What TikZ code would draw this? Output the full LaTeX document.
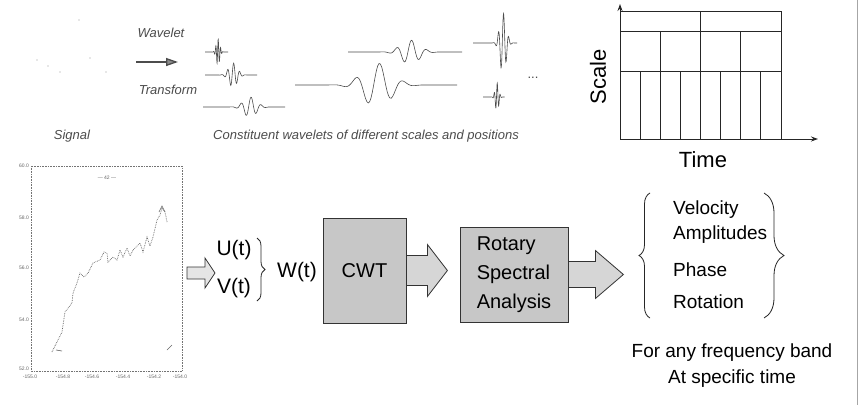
\documentclass[tikz,border=0pt]{standalone}
\usepackage{fontspec}
\setmainfont{Liberation Sans}
\usetikzlibrary{arrows.meta,decorations.pathreplacing,calc}
\newcommand\wvlt[8]{%
  \draw[wave] (#1,#4) -- ({#3-3*#6},#4) -- plot[domain={#3-3*#6}:{#3+3*#6}, samples=90]
    (\x,{#4-#5*exp(-((\x-#3)/#6)^2)*cos(#7*(\x-#3)+#8)}) -- (#2,#4);}
\begin{document}
\begin{tikzpicture}[x=1pt,y=-1pt,
  lbl/.style={font=\fontsize{21}{23}\selectfont, inner sep=0pt},
  lst/.style={font=\fontsize{19}{21}\selectfont, inner sep=0pt, anchor=west},
  toptxt/.style={font=\itshape\fontsize{13}{15}\selectfont, inner sep=0pt, text=black!70},
  box/.style={draw=black!80, line width=0.8pt, fill=black!22, inner sep=0pt, font=\fontsize{20}{29}\selectfont},
  barrow/.style={draw=black!80, line width=0.8pt, fill=black!16},
  wave/.style={black!70, line width=0.6pt},
  gridl/.style={line width=1pt, black!85},
  tick/.style={font=\fontsize{5}{6}\selectfont, inner sep=0pt, text=black!60},
  brc/.style={decorate, line width=0.8pt, black!85},
]
\useasboundingbox (0,0) rectangle (859,405);
\fill[white] (0,0) rectangle (859,405);

% ---------- top row: signal and wavelets ----------
\foreach \p in {(79,20),(37,60),(60,72),(90,58),(106,72),(48,66)}
  \fill[black!40] \p circle (0.6);
\node[toptxt] (wav) at (161,33) {Wavelet};
\node[toptxt] (trf) at (168,90) {Transform};
\coordinate (ta) at (136,62);
\coordinate (tb) at (178,62);
\draw[line width=1.3pt, black!70, -{Triangle[length=12pt,width=8pt,fill=black!45]}] (ta) -- (tb);
\node[toptxt] (sig) at (72,136) {Signal};
\node[toptxt] (cons) at (366,136) {Constituent wavelets of different scales and positions};

\wvlt{205}{228}{218}{52}{13}{2.5}{150}{-30}
\wvlt{205}{257}{233}{75}{12}{6}{60}{-40}
\wvlt{203}{285}{250}{107}{10}{9}{36}{-40}
\wvlt{348}{462}{410}{52}{12}{13}{24}{-40}
\wvlt{295}{457}{377}{85}{22}{20}{15}{-40}
\wvlt{473}{517}{503}{43}{30}{4.5}{70}{-40}
\wvlt{483}{503}{497}{97}{14}{2.5}{120}{-30}
\node[font=\fontsize{13}{15}\selectfont, inner sep=0pt, text=black!70] (dots) at (533,78) {...};

% ---------- time-scale tiling ----------
\coordinate (o) at (620,139);
\coordinate (ytop) at (620,4);
\coordinate (xend) at (818,139);
\draw[gridl, -{Stealth[length=7pt,width=5pt]}] (o) -- (ytop);
\draw[gridl, -{Stealth[length=7pt,width=5pt]}] (o) -- (xend);
\draw[gridl] (620,11) -- (781,11) -- (781,139);
\draw[gridl] (620,31) -- (781,31);
\draw[gridl] (620,71) -- (781,71);
\draw[gridl] (700,11) -- (700,139);
\foreach \x in {660,740} \draw[gridl] (\x,31) -- (\x,139);
\foreach \x in {640,680,720,760} \draw[gridl] (\x,71) -- (\x,139);
\node[font=\fontsize{22}{24}\selectfont, inner sep=0pt, rotate=90] (scl) at (598,77) {Scale};
\node[font=\fontsize{22}{24}\selectfont, inner sep=0pt] (tim) at (703,160) {Time};

% ---------- small track plot ----------
\draw[black!55, densely dotted, line width=0.6pt] (31,166) rectangle (182,371);
\foreach \y/\t in {166/60.0,218/58.0,268/56.0,320/54.0,369/52.0}
  \node[tick, anchor=east] at (29,\y) {\t};
\foreach \x/\t in {30/-155.0,63/-154.8,92/-154.6,123/-154.4,154/-154.2,180/-154.0}
  \node[tick] at (\x,377) {\t};
\node[tick] (leg) at (107,178) {--- 42 ---};
\draw[black!60, densely dotted, line width=0.7pt]
  (52,352) -- (62,332) -- (65,312) -- (72,303) -- (73,293) -- (77,283) -- (80,273)
  -- (84,277) -- (88,273) -- (93,263) -- (100,260) -- (104,252) -- (107,253) -- (108,262)
  -- (113,257) -- (117,260) -- (120,250) -- (123,257) -- (127,248) -- (130,256) -- (133,250)
  -- (137,246) -- (140,243) -- (143,252) -- (147,237) -- (150,246) -- (153,237)
  -- (157,220) -- (160,215) -- (162,208) -- (165,212) -- (167,222);
\draw[black!60, line width=0.6pt] (159,212) -- (162,206) -- (165,212);
\draw[black!60, line width=0.6pt] (167,350) -- (172,345);
\draw[black!60, line width=0.6pt] (56,350) -- (62,351);

% ---------- bottom flow ----------
\draw[barrow, fill=black!10] (187,267) -- (205,267) -- (205,258) -- (215,273) -- (205,288) -- (205,279) -- (187,279) -- cycle;
\node[lbl] (u) at (234,250) {U(t)};
\node[lbl] (v) at (234,288) {V(t)};
\draw[brc, decoration={brace, amplitude=8pt}] (257,238) -- (257,301);
\node[lbl] (w) at (297,272) {W(t)};

\node[box, minimum width=83pt, minimum height=105pt] (cwt) at (364.5,270.5) {CWT};
\draw[barrow] (cwt.east) ++(0,-15) -- ++(21,0) -- ++(0,-11) -- ++(20,26) -- ++(-20,26) -- ++(0,-11) -- ++(-21,0) -- cycle;

\node[box, minimum width=108pt, minimum height=95pt, align=left] (rsa) at (514,274.5) {Rotary\\Spectral\\Analysis};
\draw[barrow] (rsa.east) ++(0,-13) -- ++(27,0) -- ++(0,-11) -- ++(28,24) -- ++(-28,24) -- ++(0,-11) -- ++(-27,0) -- cycle;

\draw[brc, decoration={brace, amplitude=11pt}] (650,318) -- (650,193);
\node[lst] (vel) at (673,210) {Velocity};
\node[lst] (amp) at (673,235) {Amplitudes};
\node[lst] (pha) at (673,270) {Phase};
\node[lst] (rot) at (673,302) {Rotation};
\draw[brc, decoration={brace, amplitude=20pt}] (764,193) -- (764,318);

\node[font=\fontsize{19}{21}\selectfont, inner sep=0pt] (f1) at (732,353) {For any frequency band};
\node[font=\fontsize{19}{21}\selectfont, inner sep=0pt] (f2) at (732,379) {At specific time};

\draw[black!35, line width=1pt] (857,0) -- (857,405);
\end{tikzpicture}
\end{document}
